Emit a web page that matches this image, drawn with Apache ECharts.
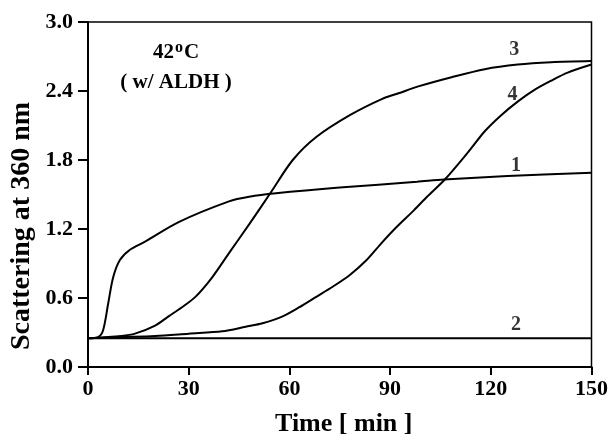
<!DOCTYPE html>
<html>
<head>
<meta charset="utf-8">
<script src="https://cdn.jsdelivr.net/npm/echarts@6/dist/echarts.min.js"></script>
<style>
  html, body { margin: 0; padding: 0; background: #fff; }
  #chart { width: 611px; height: 443px; }
</style>
</head>
<body>
<div id="chart"></div>
<script>
// x ticks / y ticks
const xTicks = [0, 30, 60, 90, 120, 150]
const yTicks = [0.0, 0.6, 1.2, 1.8, 2.4, 3.0]

// curve 1
const t1 = [0, 3, 4.5, 6, 7.5, 9.5, 12.5, 17, 27, 42, 48, 56, 75, 98, 106, 125, 150]
const v1 = [0.25, 0.26, 0.32, 0.55, 0.78, 0.93, 1.02, 1.09, 1.26, 1.44, 1.48, 1.51, 1.56, 1.61, 1.63, 1.66, 1.69]

// curve 2
const t2 = [0, 30, 60, 90, 120, 150]
const v2 = [0.25, 0.25, 0.25, 0.25, 0.25, 0.25]

// curve 3
const t3 = [0, 10, 14, 20, 24, 28, 32, 37, 42, 48, 54.5, 61, 68, 78, 87.5, 92.5, 98.4, 108.3, 118.2, 128, 138, 150]
const v3 = [0.25, 0.27, 0.29, 0.36, 0.44, 0.52, 0.61, 0.78, 0.99, 1.24, 1.52, 1.80, 2.0, 2.19, 2.33, 2.38, 2.44, 2.52, 2.59, 2.63, 2.65, 2.66]

// curve 4
const t4 = [0, 10, 20, 30, 40, 47, 52, 58, 63, 68, 73, 78, 83, 87.5, 92, 97, 101, 106.3, 113.3, 118.2, 123.1, 128.1, 133, 138, 142.9, 150]
const v4 = [0.25, 0.26, 0.27, 0.29, 0.31, 0.35, 0.38, 0.44, 0.52, 0.61, 0.70, 0.80, 0.93, 1.08, 1.22, 1.36, 1.48, 1.63, 1.87, 2.05, 2.19, 2.31, 2.41, 2.49, 2.56, 2.63]

// curve number labels [name, t, value]
const curveLabels = [
  ['1', 127.5, 1.75],
  ['2', 127.5, 0.37],
  ['3', 127, 2.76],
  ['4', 126.5, 2.37]
]

const font = 'Liberation Serif'
const chart = echarts.init(document.getElementById('chart'))

const zip = (t, v) => t.map((x, i) => [x, v[i]])

const lineSeries = (name, t, v) => ({
  name,
  type: 'line',
  data: zip(t, v),
  smooth: 0.3,
  showSymbol: false,
  symbol: 'none',
  lineStyle: { color: '#000', width: 2 },
  animation: false
})

const series = [
  lineSeries('1', t1, v1),
  lineSeries('2', t2, v2),
  lineSeries('3', t3, v3),
  lineSeries('4', t4, v4)
]

// labels for the curves
series.push({
  type: 'scatter',
  data: curveLabels.map(d => ({ value: [d[1], d[2]], name: d[0] })),
  symbolSize: 0,
  silent: true,
  animation: false,
  label: {
    show: true,
    position: 'inside',
    formatter: p => p.name,
    color: '#000',
    fontFamily: font,
    fontWeight: 'bold',
    fontSize: 20
  }
})

const option = {
  animation: false,
  grid: {
    left: 88,
    right: 16,
    top: 22,
    bottom: 76,
    show: true,
    borderColor: '#000',
    borderWidth: 1.5
  },
  xAxis: {
    type: 'value',
    min: xTicks[0],
    max: xTicks[xTicks.length - 1],
    interval: 30,
    name: 'Time [ min ]',
    nameLocation: 'middle',
    nameGap: 44,
    nameTextStyle: { fontFamily: font, fontWeight: 'bold', fontSize: 26, color: '#000', padding: [0, 0, 0, 8] },
    axisLine: { lineStyle: { color: '#000', width: 2 } },
    axisTick: { inside: false, length: 8, lineStyle: { color: '#000', width: 2 } },
    axisLabel: { margin: 11, fontFamily: font, fontWeight: 'bold', fontSize: 22, color: '#000' },
    splitLine: { show: false }
  },
  yAxis: {
    type: 'value',
    min: yTicks[0],
    max: yTicks[yTicks.length - 1],
    interval: 0.6,
    axisLine: { lineStyle: { color: '#000', width: 2 } },
    axisTick: { inside: false, length: 10, lineStyle: { color: '#000', width: 2 } },
    axisLabel: {
      margin: 15,
      fontFamily: font,
      fontWeight: 'bold',
      fontSize: 22,
      color: '#000',
      formatter: v => v.toFixed(1)
    },
    splitLine: { show: false }
  },
  graphic: [
    {
      type: 'text',
      x: 22,
      y: 226,
      rotation: Math.PI / 2,
      style: {
        text: 'Scattering at 360 nm',
        font: 'bold 28px "Liberation Serif"',
        fill: '#000',
        textAlign: 'center',
        textVerticalAlign: 'middle'
      }
    },
    {
      type: 'text',
      x: 176,
      y: 53,
      style: {
        text: '42{sup|o}C',
        font: 'bold 21px "Liberation Serif"',
        fill: '#000',
        textAlign: 'center',
        textVerticalAlign: 'middle',
        rich: {
          sup: { fontSize: 16, fontWeight: 'bold', fontFamily: font, verticalAlign: 'top', padding: [0, 1, 10, 1] }
        }
      }
    },
    {
      type: 'text',
      x: 176,
      y: 83,
      style: {
        text: '( w/ ALDH )',
        font: 'bold 21px "Liberation Serif"',
        fill: '#000',
        textAlign: 'center',
        textVerticalAlign: 'middle'
      }
    }
  ],
  series
}

chart.setOption(option)
</script>
</body>
</html>
